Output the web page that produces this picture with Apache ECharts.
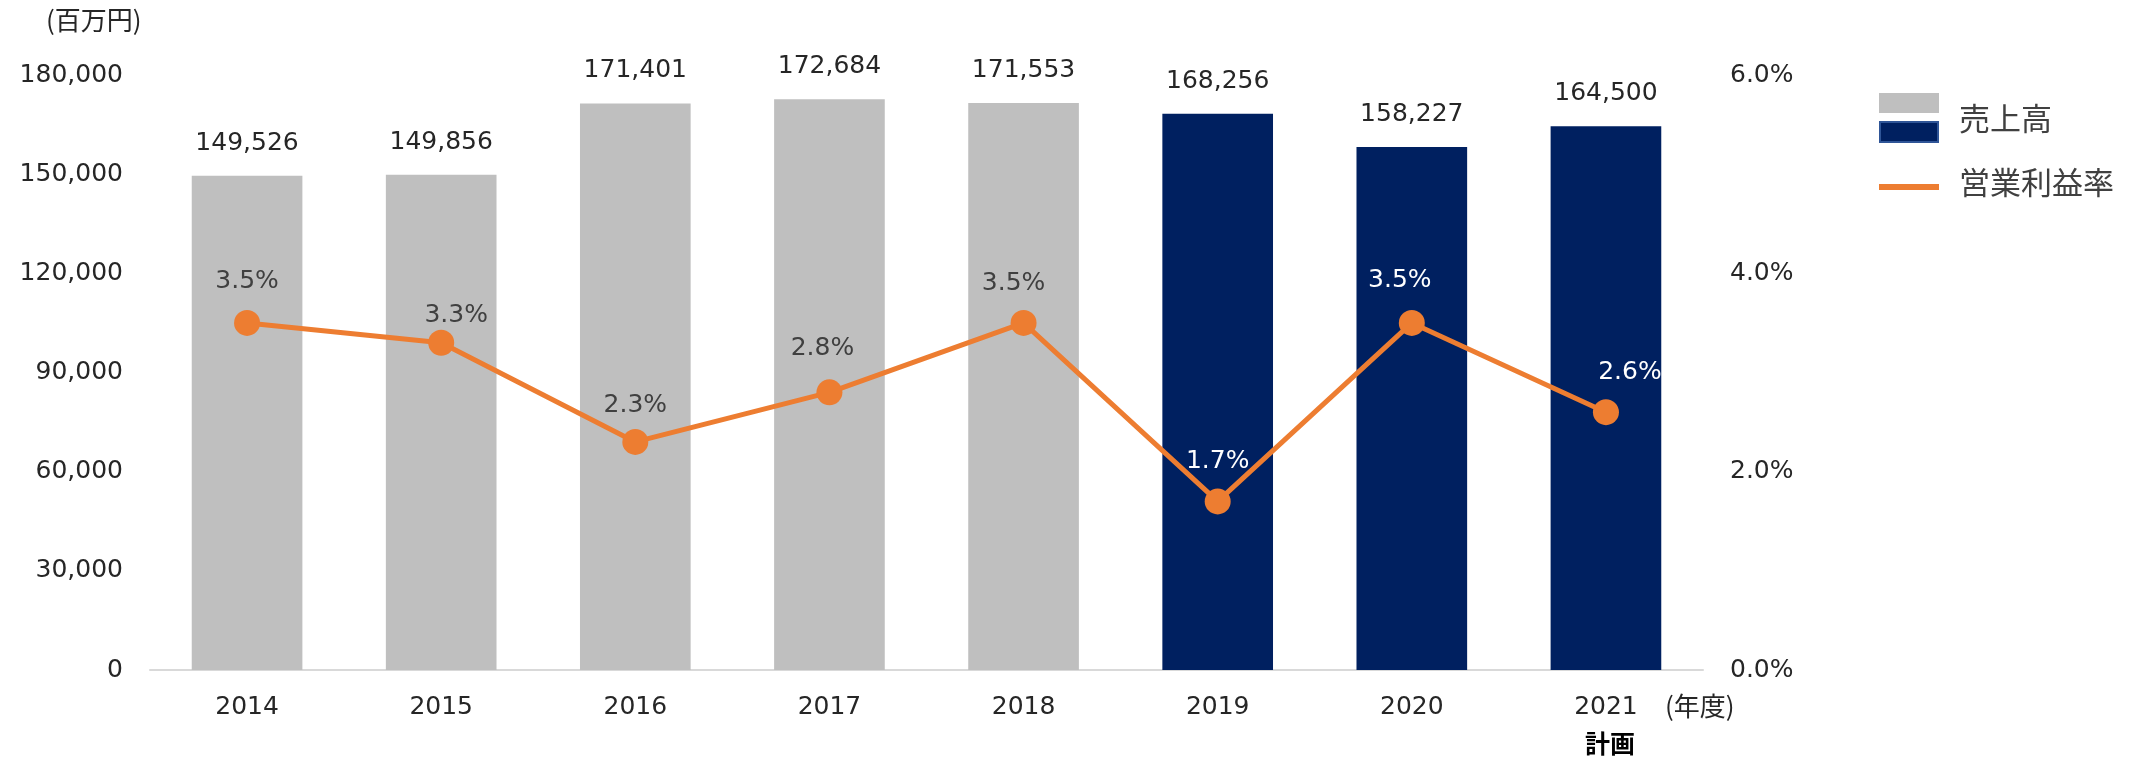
<!DOCTYPE html>
<html>
<head>
<meta charset="utf-8">
<script src="https://cdn.jsdelivr.net/npm/echarts@6/dist/echarts.min.js"></script>
<style>
  html, body { margin: 0; padding: 0; background: #fff; }
  #chart { width: 2136px; height: 777px; }
</style>
</head>
<body>
<div id="chart"></div>
<script>
// 年度
const years = ['2014', '2015', '2016', '2017', '2018', '2019', '2020', '2021']
// 売上高 (百万円)
const sales = [149526, 149856, 171401, 172684, 171553, 168256, 158227, 164500]
// 営業利益率 (%)
const opMargin = [3.5, 3.3, 2.3, 2.8, 3.5, 1.7, 3.5, 2.6]
// 2019年度以降は紺色
const navyFrom = 5

const GRAY = '#BFBFBF'
const NAVY = '#002060'
const ORANGE = '#ED7D31'
const FONT = '"DejaVu Sans", "Noto Sans CJK JP", sans-serif'
const CJK = '"Noto Sans CJK JP", sans-serif'

// label nudges (Excel moved a few labels aside)
const labelShift = [[0, -2], [15, 12], [0, 3], [-7, -4], [-10, 0], [0, 0], [-12, -3], [24, 0]]

const chart = echarts.init(document.getElementById('chart'), null, { renderer: 'canvas' })

const fmt = v => Number(v).toLocaleString('en-US')

const barData = sales.map((v, i) => ({
  value: v,
  itemStyle: { color: i >= navyFrom ? NAVY : GRAY }
}))

const lineData = opMargin.map((v, i) => ({
  value: v,
  label: {
    color: i >= navyFrom ? '#FFFFFF' : '#404040',
    offset: labelShift[i]
  }
}))

chart.setOption({
  animation: false,
  textStyle: { fontFamily: FONT },
  grid: { left: 150, right: 433, top: 75, bottom: 107 },
  xAxis: {
    type: 'category',
    data: years,
    axisLine: { lineStyle: { color: '#D9D9D9', width: 2 } },
    axisTick: { show: false },
    axisLabel: { fontSize: 25, color: '#262626', margin: 25, fontFamily: FONT }
  },
  yAxis: [
    {
      type: 'value',
      min: 0,
      max: 180000,
      interval: 30000,
      splitLine: { show: false },
      axisLine: { show: false },
      axisTick: { show: false },
      axisLabel: { fontSize: 25, color: '#262626', margin: 27, formatter: fmt, fontFamily: FONT }
    },
    {
      type: 'value',
      min: 0,
      max: 6,
      interval: 2,
      splitLine: { show: false },
      axisLine: { show: false },
      axisTick: { show: false },
      axisLabel: { fontSize: 25, color: '#262626', margin: 27, formatter: v => v.toFixed(1) + '%', fontFamily: FONT }
    }
  ],
  series: [
    {
      name: '売上高',
      type: 'bar',
      barWidth: '57%',
      itemStyle: { color: NAVY },
      label: {
        show: true,
        position: 'top',
        distance: 20,
        fontSize: 25,
        color: '#262626',
        fontFamily: FONT,
        formatter: p => fmt(p.value)
      },
      data: barData
    },
    {
      name: '営業利益率',
      type: 'line',
      yAxisIndex: 1,
      symbol: 'circle',
      symbolSize: 26,
      lineStyle: { color: ORANGE, width: 5 },
      itemStyle: { color: ORANGE },
      label: {
        show: true,
        position: 'top',
        distance: 14,
        fontSize: 25,
        fontFamily: FONT,
        formatter: p => Number(p.value).toFixed(1) + '%'
      },
      data: lineData
    }
  ],
  graphic: [
    { type: 'text', left: 46, top: 7, style: { text: '(百万円)', font: '26px ' + CJK, fill: '#262626' } },
    { type: 'text', left: 1665, top: 693, style: { text: '(年度)', font: '26px ' + CJK, fill: '#262626' } },
    { type: 'text', left: 1585, top: 731, style: { text: '計画', font: 'bold 25px ' + CJK, fill: '#000' } },
    // legend
    { type: 'rect', shape: { x: 1879, y: 93, width: 60, height: 20 }, style: { fill: GRAY } },
    { type: 'rect', shape: { x: 1880, y: 122, width: 58, height: 20 }, style: { fill: NAVY, stroke: '#2F5597', lineWidth: 2 } },
    { type: 'text', left: 1959, top: 103, style: { text: '売上高', font: '31px ' + CJK, fill: '#404040' } },
    { type: 'rect', shape: { x: 1879, y: 184, width: 60, height: 6 }, style: { fill: ORANGE } },
    { type: 'text', left: 1959, top: 167, style: { text: '営業利益率', font: '31px ' + CJK, fill: '#404040' } }
  ]
})
</script>
</body>
</html>
